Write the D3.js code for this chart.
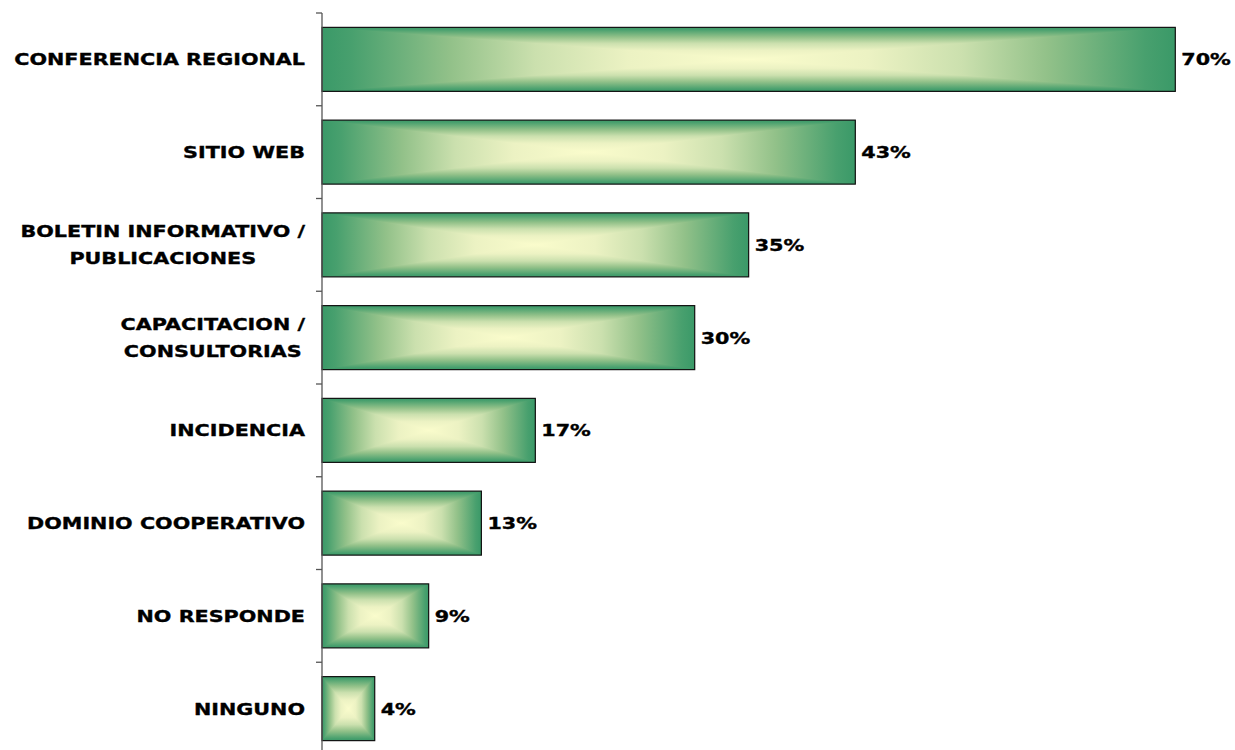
<!DOCTYPE html>
<html>
<head>
<meta charset="utf-8">
<script src="https://cdn.jsdelivr.net/npm/d3@7"></script>
<style>
  html, body { margin: 0; padding: 0; background: #fff; }
  svg { display: block; }
</style>
</head>
<body>
<svg id="chart" width="1235" height="750"></svg>
<script>
// ---- data ----
const categories = [
  ["CONFERENCIA REGIONAL"],
  ["SITIO WEB"],
  ["BOLETIN INFORMATIVO /", "PUBLICACIONES"],
  ["CAPACITACION /", "CONSULTORIAS"],
  ["INCIDENCIA"],
  ["DOMINIO COOPERATIVO"],
  ["NO RESPONDE"],
  ["NINGUNO"]
];
const values = [69.6, 43.5, 34.8, 30.4, 17.4, 13.0, 8.7, 4.3];
const valueLabels = ["70%", "43%", "35%", "30%", "17%", "13%", "9%", "4%"];

// ---- layout ----
const svg = d3.select("#chart");
const axisX = 322;
const ids = d3.range(categories.length);
const FONT = "'DejaVu Sans', Verdana, sans-serif";
const SX = 1.27; // horizontal widening to mimic Verdana Bold
const FS = 16.3;

const y = d3.scaleBand()
  .domain(ids)
  .range([13, 755])
  .paddingInner(0.31)
  .paddingOuter(0.155);

const x = d3.scaleLinear()
  .domain([0, 80])
  .range([axisX, axisX + 80 * 12.26]);

// colour profile: t = 0 at bar edge, 1 at bar centre
const profile = [
  [0.00, "#3a9968"],
  [0.07, "#48a06e"],
  [0.30, "#92c189"],
  [0.50, "#cbe0ae"],
  [0.72, "#ecf2c3"],
  [1.00, "#fafccc"]
];

const defs = svg.append("defs");
function grad(id, x1, y1, x2, y2, stops) {
  const g = defs.append("linearGradient").attr("id", id)
    .attr("x1", x1).attr("y1", y1).attr("x2", x2).attr("y2", y2);
  stops.forEach(s => g.append("stop").attr("offset", s[0]).attr("stop-color", s[1]));
}
const vStops = profile.map(p => [p[0] / 2, p[1]])
  .concat(profile.slice(0, -1).reverse().map(p => [1 - p[0] / 2, p[1]]));
grad("gv", 0, 0, 0, 1, vStops);
grad("gl", 0, 0, 1, 0, profile);
grad("gr", 1, 0, 0, 0, profile);

// bars
const bars = svg.append("g").selectAll("g.bar").data(ids).join("g").attr("class", "bar");

bars.append("rect")
  .attr("x", x(0))
  .attr("y", i => y(i))
  .attr("width", i => x(values[i]) - x(0))
  .attr("height", y.bandwidth())
  .attr("fill", "url(#gv)");

bars.append("path")
  .attr("fill", "url(#gl)")
  .attr("d", i => {
    const x0 = x(0), x1 = x(values[i]), y0 = y(i), y1 = y(i) + y.bandwidth();
    const cx = (x0 + x1) / 2, cy = (y0 + y1) / 2;
    return `M${x0},${y0}L${cx},${cy}L${x0},${y1}Z`;
  });

bars.append("path")
  .attr("fill", "url(#gr)")
  .attr("d", i => {
    const x0 = x(0), x1 = x(values[i]), y0 = y(i), y1 = y(i) + y.bandwidth();
    const cx = (x0 + x1) / 2, cy = (y0 + y1) / 2;
    return `M${x1},${y0}L${cx},${cy}L${x1},${y1}Z`;
  });

bars.append("rect")
  .attr("x", x(0))
  .attr("y", i => y(i))
  .attr("width", i => x(values[i]) - x(0))
  .attr("height", y.bandwidth())
  .attr("fill", "none")
  .attr("stroke", "#111")
  .attr("stroke-width", 1.2);

// value labels
svg.append("g").selectAll("g").data(ids).join("g")
  .attr("transform", i => `translate(${x(values[i]) + 6},${y(i) + y.bandwidth() / 2}) scale(${SX},1)`)
  .append("text")
  .attr("dy", "0.36em")
  .attr("font-family", FONT)
  .attr("font-weight", "bold")
  .attr("font-size", FS)
  .attr("fill", "#000")
  .attr("stroke", "#000")
  .attr("stroke-width", 0.35)
  .text(i => valueLabels[i]);

// axis (band boundaries as ticks)
const ax = svg.append("g");
ax.append("line")
  .attr("x1", axisX).attr("x2", axisX)
  .attr("y1", y.range()[0]).attr("y2", y.range()[1])
  .attr("stroke", "#555").attr("stroke-width", 1.3);
const step = y.step();
ax.selectAll("line.tick").data(d3.range(categories.length + 1)).join("line")
  .attr("class", "tick")
  .attr("x1", axisX - 6).attr("x2", axisX)
  .attr("y1", k => y.range()[0] + k * step)
  .attr("y2", k => y.range()[0] + k * step)
  .attr("stroke", "#555").attr("stroke-width", 1.3);

// category labels
const labelRight = 305;
const lineH = 27;
const catG = svg.append("g");
ids.forEach(i => {
  const lines = categories[i];
  const cy = y(i) + y.bandwidth() / 2;
  const g = catG.append("g").attr("transform", `translate(${labelRight},${cy}) scale(${SX},1)`);
  const t = g.append("text")
    .attr("font-family", FONT)
    .attr("font-weight", "bold")
    .attr("font-size", FS)
    .attr("fill", "#000")
    .attr("stroke", "#000")
    .attr("stroke-width", 0.35)
    .attr("text-anchor", "middle");
  const spans = lines.map((s, k) => t.append("tspan")
    .attr("y", (k - (lines.length - 1) / 2) * lineH)
    .attr("dy", "0.36em")
    .text(s));
  const maxW = d3.max(spans, sp => sp.node().getComputedTextLength());
  spans.forEach(sp => sp.attr("x", -maxW / 2));
});
</script>
</body>
</html>
